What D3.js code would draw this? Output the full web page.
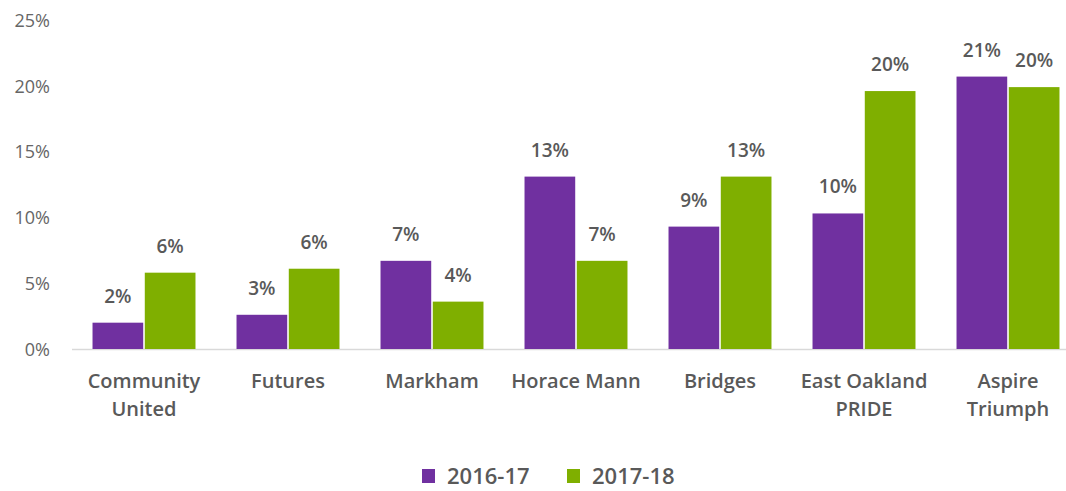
<!DOCTYPE html>
<html><head><meta charset="utf-8">
<script src="https://cdn.jsdelivr.net/npm/d3@7"></script>
<style>body{margin:0;background:#fff}svg{display:block}</style>
</head><body>
<svg id="c" width="1066" height="491"></svg>
<script>
const categories = [["Community","United"],["Futures"],["Markham"],["Horace Mann"],["Bridges"],["East Oakland","PRIDE"],["Aspire","Triumph"]];
const seriesNames = ["2016-17","2017-18"];
const values2016 = [2.0, 2.6, 6.7, 13.1, 9.3, 10.3, 20.7];
const values2017 = [5.8, 6.1, 3.6, 6.7, 13.1, 19.6, 19.9];
const labels2016 = ["2%","3%","7%","13%","9%","10%","21%"];
const labels2017 = ["6%","6%","4%","7%","13%","20%","20%"];
const yTicks = [0,5,10,15,20,25];
const colors = ["#7030A0","#7FAF00"];

const svg = d3.select("#c");
const font = "'Open Sans', sans-serif";
const textColor = "#595959";

const y = d3.scaleLinear().domain([0,25]).range([349,20]);
const x0 = d3.scaleBand().domain(d3.range(categories.length)).range([72,1080]).paddingInner(0.285).paddingOuter(0.1425);
const x1 = d3.scaleBand().domain([0,1]).range([0,x0.bandwidth()]).paddingInner(0.03);

// y axis labels
const yAxis = d3.axisLeft(y).tickValues(yTicks).tickFormat(d=>d+"%").tickSize(0).tickPadding(0);
const ga = svg.append("g").attr("transform","translate(50,0)").call(yAxis);
ga.select(".domain").remove();
ga.selectAll("text").attr("font-family",font).attr("font-size",18).attr("fill","#666").attr("dy","0.35em");

// baseline
svg.append("line").attr("x1",72).attr("x2",1066).attr("y1",y(0)+0.5).attr("y2",y(0)+0.5).attr("stroke","#d9d9d9").attr("stroke-width",1.5);

const data = categories.map((c,i)=>({i, vals:[values2016[i],values2017[i]], labs:[labels2016[i],labels2017[i]]}));
const g = svg.append("g").selectAll("g").data(data).join("g").attr("transform",d=>`translate(${x0(d.i)},0)`);
g.selectAll("rect").data(d=>d.vals.map((v,k)=>({v,k}))).join("rect")
  .attr("x",d=>x1(d.k)).attr("width",x1.bandwidth())
  .attr("y",d=>y(d.v)).attr("height",d=>y(0)-y(d.v)).attr("fill",d=>colors[d.k]);
g.selectAll("text.lab").data(d=>d.vals.map((v,k)=>({v,k,l:d.labs[k]}))).join("text").attr("class","lab")
  .attr("x",d=>x1(d.k)+x1.bandwidth()/2).attr("y",d=>y(d.v)-20)
  .attr("text-anchor","middle").attr("font-family",font).attr("font-size",19).attr("font-weight",600).attr("fill",textColor)
  .text(d=>d.l);

// category labels
const cl = svg.append("g").selectAll("text").data(categories).join("text")
  .attr("x",(d,i)=>x0(i)+x0.bandwidth()/2).attr("y",388)
  .attr("text-anchor","middle").attr("font-family",font).attr("font-size",20).attr("font-weight",600).attr("fill",textColor);
cl.selectAll("tspan").data(d=>d).join("tspan").attr("x",function(){return this.parentNode.getAttribute("x");})
  .attr("dy",(d,j)=>j?28:0).text(d=>d);

// legend
const leg = svg.append("g");
const lx = [422,567];
seriesNames.forEach((s,k)=>{
  leg.append("rect").attr("x",lx[k]).attr("y",469).attr("width",13).attr("height",14).attr("fill",colors[k]);
  leg.append("text").attr("x",lx[k]+25).attr("y",484).attr("font-family",font).attr("font-size",22).attr("font-weight",600).attr("fill",textColor).text(s);
});
</script>
</body></html>
